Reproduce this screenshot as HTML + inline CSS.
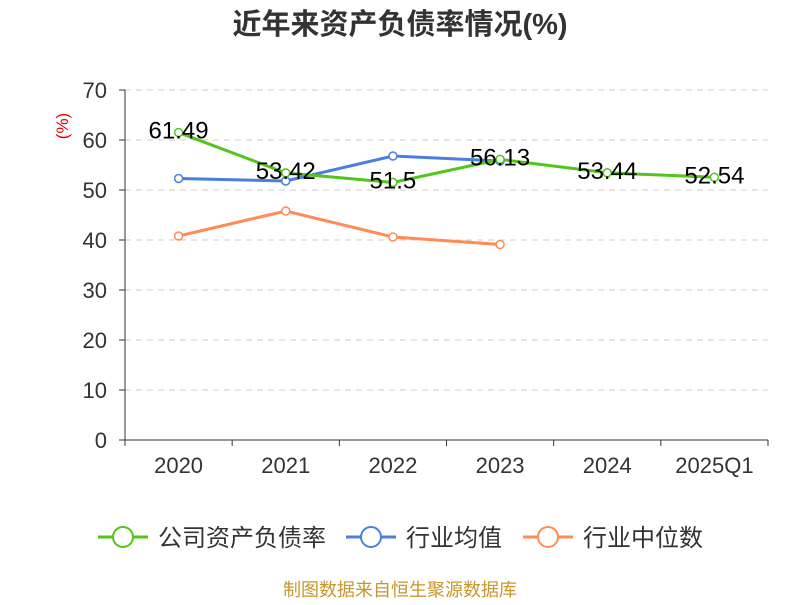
<!DOCTYPE html>
<html><head><meta charset="utf-8"><style>
body{margin:0;background:#fff;width:800px;height:600px;overflow:hidden;font-family:"Liberation Sans","Noto Sans CJK SC",sans-serif;}
</style></head><body>
<svg id="chart" width="800" height="600" xmlns="http://www.w3.org/2000/svg" font-family="Liberation Sans, Noto Sans CJK SC, sans-serif">
<text x="400" y="34" text-anchor="middle" font-size="29" font-weight="bold" fill="#333">近年来资产负债率情况(%)</text>
<text transform="translate(68,126) rotate(-90)" text-anchor="middle" font-size="17" fill="#e00">(%)</text>
<g id="grid"></g><g id="axes"></g><g id="series"></g>
<g font-size="24" fill="#333">
<g><line x1="98" y1="537" x2="148" y2="537" stroke="#52c41a" stroke-width="3"/><circle cx="123" cy="537" r="10" fill="#fff" stroke="#52c41a" stroke-width="2"/><text x="158" y="546">公司资产负债率</text></g>
<g><line x1="346" y1="537" x2="396" y2="537" stroke="#4a7fe0" stroke-width="3"/><circle cx="371" cy="537" r="10" fill="#fff" stroke="#4a7fe0" stroke-width="2"/><text x="406" y="546">行业均值</text></g>
<g><line x1="523" y1="537" x2="573" y2="537" stroke="#ff8c55" stroke-width="3"/><circle cx="548" cy="537" r="10" fill="#fff" stroke="#ff8c55" stroke-width="2"/><text x="583" y="546">行业中位数</text></g>
</g>
<text x="400" y="596" text-anchor="middle" font-size="18" fill="#c8962a">制图数据来自恒生聚源数据库</text>
</svg>
<script>
const categories=["2020","2021","2022","2023","2024","2025Q1"];
const companyValues=[61.49,53.42,51.5,56.13,53.44,52.54];
const companyLabels=["61.49","53.42","51.5","56.13","53.44","52.54"];
const industryAvg=[52.3,51.8,56.8,55.8];
const industryMedian=[40.8,45.8,40.6,39.1];
const yTicks=[0,10,20,30,40,50,60,70];
const NS="http://www.w3.org/2000/svg";
const x0=125,x1=768,yTop=90,yBot=440,yMax=70;
const bw=(x1-x0)/categories.length;
const xs=i=>x0+bw*(i+0.5);
const ys=v=>yBot-(v/yMax)*(yBot-yTop);
function mk(tag,attrs,parent){const e=document.createElementNS(NS,tag);for(const k in attrs)e.setAttribute(k,attrs[k]);parent.appendChild(e);return e;}
const grid=document.getElementById('grid'),axes=document.getElementById('axes'),ser=document.getElementById('series');
yTicks.forEach(t=>{
  const y=ys(t);
  if(t>0){const g=mk('line',{x1:x0,x2:x1,y1:y,y2:y,stroke:'#ccc','stroke-dasharray':'6,5'},grid);
  
  }
  const tk=mk('line',{x1:x0-6,x2:x0,y1:y,y2:y,stroke:'#333'},axes);
  
  
  const tx=mk('text',{x:107,y:y+8,'text-anchor':'end','font-size':22,fill:'#333'},axes);tx.textContent=t;
  
  
});
const ya=mk('line',{x1:x0,x2:x0,y1:yTop,y2:yBot,stroke:'#333'},axes);


const xa=mk('line',{x1:x0,x2:x1,y1:yBot,y2:yBot,stroke:'#333'},axes);


for(let i=0;i<=categories.length;i++){const x=x0+bw*i;const t=mk('line',{x1:x,x2:x,y1:yBot,y2:yBot+6,stroke:'#333'},axes);

}
categories.forEach((c,i)=>{const t=mk('text',{x:xs(i),y:473,'text-anchor':'middle','font-size':22,fill:'#333'},axes);t.textContent=c;

});
function series(vals,color,name){
  const pts=vals.map((v,i)=>xs(i)+','+ys(v)).join(' ');
  const l=mk('polyline',{points:pts,fill:'none',stroke:color,'stroke-width':3},ser);
  
  
  vals.forEach((v,i)=>{const c=mk('circle',{cx:xs(i),cy:ys(v),r:4,fill:'#fff',stroke:color,'stroke-width':1.5},ser);
  
  });
}
series(industryMedian,'#ff8c55','industry-median');
series(industryAvg,'#4a7fe0','industry-avg');
series(companyValues,'#52c41a','company');
companyValues.forEach((v,i)=>{const t=mk('text',{x:xs(i),y:ys(v)+6,'text-anchor':'middle','font-size':24,fill:'#000'},ser);t.textContent=companyLabels[i];

});
</script>
</body></html>
